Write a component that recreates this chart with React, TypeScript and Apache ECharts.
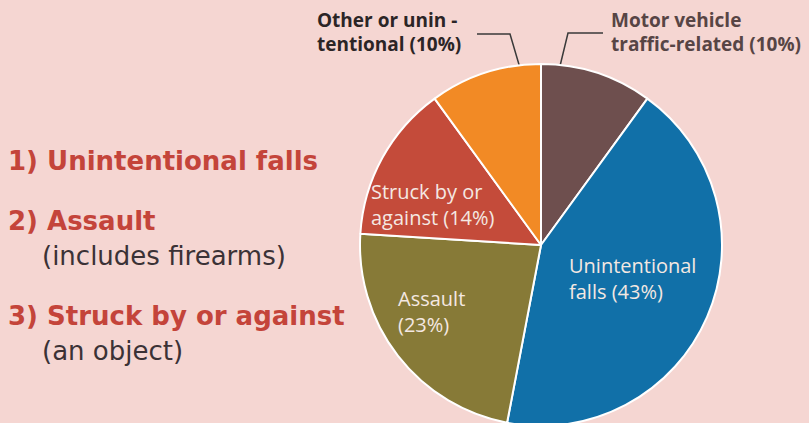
import React, { useEffect, useRef } from "react";
import * as echarts from "echarts";

const categories = [
  "Motor vehicle traffic-related",
  "Unintentional falls",
  "Assault",
  "Struck by or against",
  "Other or unintentional",
];
const shares = [10, 43, 23, 14, 10];
const sliceColors = ["#6e4f4e", "#1170a8", "#877a37", "#c44b3a", "#f28a25"];
const sliceLabels = [
  "Motor vehicle\ntraffic-related (10%)",
  "Unintentional\nfalls (43%)",
  "Assault\n(23%)",
  "Struck by or\nagainst (14%)",
  "Other or unin -\ntentional (10%)",
];
const rankHeads = ["1) Unintentional falls", "2) Assault", "3) Struck by or against"];
const rankNotes = ["", "(includes firearms)", "(an object)"];

export default function App() {
  const ref = useRef<HTMLDivElement>(null);
  useEffect(() => {
    document.body.style.margin = "0";
    const chart = echarts.init(ref.current!, null, { renderer: "svg" });
    const insideStyle = {
      position: "inside",
      color: "#f4e8e2",
      fontFamily: "Open Sans",
      fontSize: 20,
      lineHeight: 26,
      align: "left",
    };
    const outsideStyle = {
      position: "outside",
      fontFamily: "Open Sans",
      fontWeight: "bold",
      fontSize: 19,
      lineHeight: 24,
      align: "left",
      overflow: "none",
      width: 220,
    };
    const labelPos: Record<number, any> = {
      0: { x: 611, y: 8, lines: [[560, 66], [568, 33], [603, 33]] },
      1: { x: 569, y: 252 },
      2: { x: 398, y: 285 },
      3: { x: 371, y: 178 },
      4: { x: 317, y: 8, lines: [[520, 68], [510, 34], [477, 34]] },
    };
    const data = categories.map((name, i) => {
      const outside = i === 0 || i === 4;
      return {
        name,
        value: shares[i],
        itemStyle: { color: sliceColors[i] },
        label: outside
          ? { ...outsideStyle, color: i === 0 ? "#574545" : "#2b2526", formatter: sliceLabels[i] }
          : { ...insideStyle, formatter: sliceLabels[i] },
        labelLine: outside
          ? { show: true, lineStyle: { color: "#3a3a3a", width: 1.5 } }
          : { show: false },
      };
    });
    const headY = [148, 208, 303];
    const noteY = [0, 243, 338];
    const graphics: any[] = [];
    rankHeads.forEach((t, i) => {
      graphics.push({
        type: "text",
        left: 8,
        top: headY[i],
        style: {
          text: t,
          fill: "#c4443a",
          font: "bold 26px 'DejaVu Sans'",
        },
      });
      if (rankNotes[i]) {
        graphics.push({
          type: "text",
          left: 42,
          top: noteY[i],
          style: {
            text: rankNotes[i],
            fill: "#3b3236",
            font: "26px 'DejaVu Sans'",
          },
        });
      }
    });
    chart.setOption({
      animation: false,
      backgroundColor: "#f5d6d2",
      graphic: graphics,
      series: [
        {
          type: "pie",
          center: [541, 245],
          radius: 181,
          startAngle: 90,
          clockwise: true,
          edgeDistance: 0,
          bleedMargin: 0,
          itemStyle: { borderColor: "#ffffff", borderWidth: 2 },
          data,
          labelLayout: (params: any) => {
            const p = labelPos[params.dataIndex];
            const out: any = { x: p.x, y: p.y, align: "left", verticalAlign: "top", width: 220 };
            if (p.lines) out.labelLinePoints = p.lines;
            return out;
          },
        },
      ],
    });
    return () => chart.dispose();
  }, []);
  return <div ref={ref} style={{ width: 809, height: 423 }} />;
}
